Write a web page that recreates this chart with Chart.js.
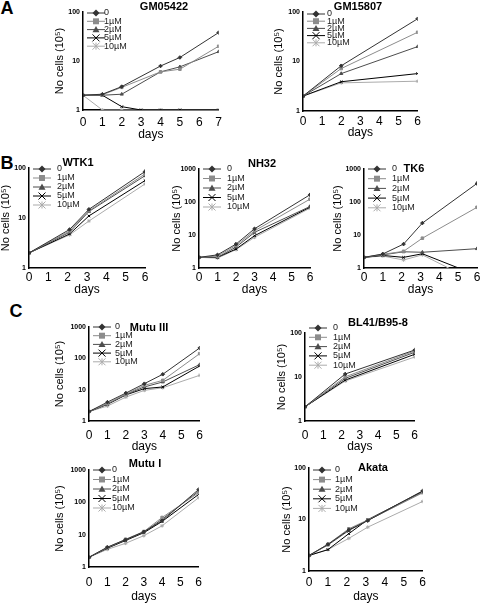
<!DOCTYPE html>
<html>
<head>
<meta charset="utf-8">
<script src="https://cdn.jsdelivr.net/npm/chart.js@4.4.0/dist/chart.umd.min.js"></script>
<style>
body{margin:0;width:480px;height:603px;overflow:hidden;background:#fff;position:relative;font-family:"Liberation Sans",Arial,sans-serif;}
.lbl{position:absolute;transform:translate(-50%,-50%);font-weight:bold;white-space:nowrap;color:#000;}
.ttl{font-size:11px;}
.let{font-size:18px;}
</style>
</head>
<body>
<div class="lbl let" style="left:7px;top:8px">A</div>
<div class="lbl let" style="left:7px;top:163px">B</div>
<div class="lbl let" style="left:16px;top:311px">C</div>
<script>
// doses shown in every legend
const doses = ['0', '1µM', '2µM', '5µM', '10µM'];
const colors = ['#333333', '#8c8c8c', '#4d4d4d', '#000000', '#ababab'];
const markers = ['rectRot', 'rect', 'triangle', 'crossRot', 'star'];

// cell counts (10^5) per dose
const gm05422Days = [0, 1, 2, 3, 4, 5, 7];
const gm05422Cells = [
  [2.0, 2.1, 3.0, null, 7.9, 11.8, 38],
  [2.0, 2.05, 2.9, null, 6.0, 6.8, 20],
  [2.0, 2.0, 2.1, null, 6.0, 7.6, 15.5],
  [2.0, 2.0, 1.17, 1, 1, 1, 1],
  [2.0, 1, 1, 1, 1, 1, 1]
];
const gm15807Days = [0, 2, 6];
const gm15807Cells = [
  [2, 8.2, 73],
  [2, 7.2, 39],
  [2, 5.7, 20],
  [2, 3.9, 5.7],
  [2, 3.7, 4.0]
];
const wtk1Days = [0, 2.1, 3.1, 6];
const wtk1Cells = [
  [2, 5.9, 14.9, 85],
  [2, 5.5, 14, 76],
  [2, 5.2, 13.5, 70],
  [2, 4.8, 11, 56],
  [2, 4.6, 8.7, 48]
];
const nh32Days = [0, 1, 2, 3, 6];
const nh32Cells = [
  [2.1, 2.5, 5.3, 15.4, 166],
  [2.1, 2.3, 4.8, 13.4, 122],
  [2.1, 2.1, 4.3, 12, 73],
  [2.1, 2.1, 3.75, 9.5, 70],
  [2.1, 2.0, 3.6, 8.5, 65]
];
const tk6Days = [0, 1, 2.1, 3.1, 6];
const tk6Cells = [
  [2.1, 2.66, 5.3, 23, 365],
  [2.1, 2.6, 3.2, 8, 69],
  [2.1, 2.5, 3.1, 3.0, 3.85],
  [2.1, 2.4, 2.1, 2.7, 0.6],
  [2.1, 2.3, 1.75, 2.5, 0.37]
];
const mutu3Days = [0, 1, 2, 3, 4, 6];
const mutu3Cells = [
  [2, 4.0, 7.8, 15.5, 31, 214],
  [2, 3.6, 7.2, 13.7, 19.8, 141],
  [2, 3.5, 7.0, 12.2, 17.6, 63],
  [2, 3.4, 6.8, 10.8, 12.2, 57],
  [2, 3.0, 5.8, 9.5, 11.5, 28.7]
];
const bl41Days = [0, 2.2, 6];
const bl41Cells = [
  [2.1, 11.7, 41],
  [2.1, 10.1, 39],
  [2.1, 9.3, 36.5],
  [2.1, 8.5, 32.8],
  [2.1, 8.1, 28.5]
];
const mutu1Days = [0, 1, 2, 3, 4, 6];
const mutu1Cells = [
  [2, 4.1, 7.0, 12.3, 26.8, 250],
  [2, 4.0, 7.2, 12.5, 34, 198],
  [2, 3.9, 6.9, 12.0, 30, 220],
  [2, 3.8, 6.6, 11.5, 25.6, 176],
  [2, 3.5, 5.4, 9.3, 18.8, 139]
];
const akataDays = [0, 1, 2.1, 3.1, 6];
const akataCells = [
  [2, 3.3, 6.3, 9.5, 36],
  [2, 3.3, 6.6, 9.8, 33],
  [2, 3.2, 6.1, 9.6, 33.5],
  [2, 2.6, 5.3, 9.9, 35],
  [2, 2.6, 4.3, 7.1, 22.4]
];

Chart.defaults.font.family = '"Liberation Sans", Arial, sans-serif';
Chart.defaults.color = '#000';

function mark(ctx, style, x, y, r) {
  ctx.beginPath();
  if (style === 'rectRot') {
    ctx.moveTo(x, y - r); ctx.lineTo(x + r, y); ctx.lineTo(x, y + r); ctx.lineTo(x - r, y); ctx.closePath(); ctx.fill();
  } else if (style === 'rect') {
    ctx.rect(x - r * 0.85, y - r * 0.85, r * 1.7, r * 1.7); ctx.fill();
  } else if (style === 'triangle') {
    ctx.moveTo(x, y - r); ctx.lineTo(x + r, y + r * 0.75); ctx.lineTo(x - r, y + r * 0.75); ctx.closePath(); ctx.fill();
  } else if (style === 'crossRot') {
    ctx.moveTo(x - r, y - r); ctx.lineTo(x + r, y + r); ctx.moveTo(x + r, y - r); ctx.lineTo(x - r, y + r); ctx.stroke();
  } else {
    ctx.moveTo(x - r, y - r); ctx.lineTo(x + r, y + r); ctx.moveTo(x + r, y - r); ctx.lineTo(x - r, y + r);
    ctx.moveTo(x, y - r); ctx.lineTo(x, y + r); ctx.stroke();
  }
}

// legend drawn as line + marker + label, like the original
const lineLegend = {
  id: 'lineLegend',
  afterDraw(chart, args, opts) {
    const ctx = chart.ctx;
    const left = chart.chartArea.left;
    const top = chart.chartArea.top;
    chart.data.datasets.forEach((ds, i) => {
      const y = top + opts.y + i * opts.dy;
      ctx.save();
      ctx.strokeStyle = ds.borderColor;
      ctx.fillStyle = ds.borderColor;
      ctx.lineWidth = 1;
      ctx.beginPath();
      ctx.moveTo(left + 4, y);
      ctx.lineTo(left + 22, y);
      ctx.stroke();
      mark(ctx, ds.pointStyle, left + 13, y, 3.5);
      ctx.fillStyle = '#222';
      ctx.font = '9px "Liberation Sans", Arial, sans-serif';
      ctx.textBaseline = 'middle';
      ctx.fillText(ds.label, left + opts.tx, y);
      ctx.restore();
    });
  }
};

function panel(p) {
  const yW = p.titleOff + 7;
  const xH = p.daysOff + 7;
  const w = p.xEnd - p.ax + yW + 6;
  const h = p.bottom - p.top + 10 + xH;
  const c = document.createElement('canvas');
  c.width = w;
  c.height = h;
  c.style.cssText = 'position:absolute;left:' + (p.ax - yW) + 'px;top:' + (p.top - 10) + 'px;';
  document.body.appendChild(c);

  const t = document.createElement('div');
  t.className = 'lbl ttl';
  t.style.left = p.tx + 'px';
  t.style.top = p.ty + 'px';
  t.textContent = p.name;
  document.body.appendChild(t);

  const decades = [];
  for (let v = 1; v <= p.yMax; v *= 10) decades.push(v);

  new Chart(c, {
    type: 'line',
    data: {
      datasets: p.cells.map((vals, i) => ({
        label: doses[i],
        data: p.days.map((d, j) => ({x: d, y: vals[j]})),
        borderColor: colors[i],
        backgroundColor: colors[i],
        borderWidth: 1,
        pointStyle: markers[i],
        pointRadius: 1.8,
        pointBorderWidth: 1,
        spanGaps: true,
        tension: 0
      }))
    },
    options: {
      responsive: false,
      animation: false,
      layout: {padding: {top: 10, right: 6, left: 0, bottom: 0}},
      plugins: {
        legend: {display: false},
        tooltip: {enabled: false},
        lineLegend: {y: p.legY, dy: p.legDy, tx: p.legTx}
      },
      scales: {
        x: {
          type: 'linear', min: 0, max: p.xMax,
          grid: {display: false, drawTicks: false},
          border: {color: '#000', width: 1.5},
          ticks: {stepSize: 1, padding: p.tickOff - 7, font: {size: 12}, maxRotation: 0, autoSkip: false},
          title: {display: true, text: 'days', font: {size: 12}, padding: 0},
          afterFit: s => { s.height = xH; }
        },
        y: {
          type: 'logarithmic', min: 1, max: p.yMax,
          grid: {display: false, drawTicks: false},
          border: {color: '#000', width: 1.5},
          ticks: {padding: 3, font: {size: 7, weight: 'bold'}, callback: v => String(v)},
          afterBuildTicks: s => { s.ticks = decades.map(v => ({value: v})); },
          title: {display: true, text: 'No cells (10⁵)', font: {size: 11}, padding: 0},
          afterFit: s => { s.width = yW; }
        }
      }
    },
    plugins: [lineLegend]
  });
}

panel({name: 'GM05422', days: gm05422Days, cells: gm05422Cells, xMax: 7, yMax: 100,
  ax: 83, xEnd: 221, top: 12, bottom: 110, titleOff: 23, tickOff: 12, daysOff: 25,
  legY: 1, legDy: 8.3, legTx: 21, tx: 164, ty: 6});
panel({name: 'GM15807', days: gm15807Days, cells: gm15807Cells, xMax: 6, yMax: 100,
  ax: 303, xEnd: 418, top: 12, bottom: 111, titleOff: 24, tickOff: 10, daysOff: 22,
  legY: 2, legDy: 7.2, legTx: 24, tx: 358, ty: 6});
panel({name: 'WTK1', days: wtk1Days, cells: wtk1Cells, xMax: 6, yMax: 100,
  ax: 29, xEnd: 145, top: 168, bottom: 268, titleOff: 23, tickOff: 9, daysOff: 22,
  legY: 1, legDy: 9, legTx: 28, tx: 78, ty: 162});
panel({name: 'NH32', days: nh32Days, cells: nh32Cells, xMax: 6, yMax: 1000,
  ax: 199, xEnd: 310, top: 169, bottom: 268, titleOff: 22, tickOff: 9, daysOff: 22,
  legY: 0, legDy: 9.5, legTx: 28, tx: 262, ty: 163});
panel({name: 'TK6', days: tk6Days, cells: tk6Cells, xMax: 6, yMax: 1000,
  ax: 364, xEnd: 477, top: 169, bottom: 268, titleOff: 26, tickOff: 9, daysOff: 22,
  legY: 0, legDy: 9.7, legTx: 28, tx: 414, ty: 168});
panel({name: 'Mutu III', days: mutu3Days, cells: mutu3Cells, xMax: 6, yMax: 1000,
  ax: 89, xEnd: 204, top: 327, bottom: 421, titleOff: 29, tickOff: 14, daysOff: 26,
  legY: 0, legDy: 8.7, legTx: 26, tx: 149, ty: 327});
panel({name: 'BL41/B95-8', days: bl41Days, cells: bl41Cells, xMax: 6, yMax: 100,
  ax: 305, xEnd: 419, top: 333, bottom: 421, titleOff: 23, tickOff: 14, daysOff: 26,
  legY: -5, legDy: 9.3, legTx: 28, tx: 378, ty: 322});
panel({name: 'Mutu I', days: mutu1Days, cells: mutu1Cells, xMax: 6, yMax: 1000,
  ax: 89, xEnd: 204, top: 470, bottom: 567, titleOff: 29, tickOff: 15, daysOff: 30,
  legY: 0, legDy: 9.5, legTx: 23, tx: 145, ty: 463});
panel({name: 'Akata', days: akataDays, cells: akataCells, xMax: 6, yMax: 100,
  ax: 309, xEnd: 424, top: 468, bottom: 571, titleOff: 22, tickOff: 11, daysOff: 26,
  legY: 2, legDy: 9.6, legTx: 26, tx: 373, ty: 467});
</script>
</body>
</html>
